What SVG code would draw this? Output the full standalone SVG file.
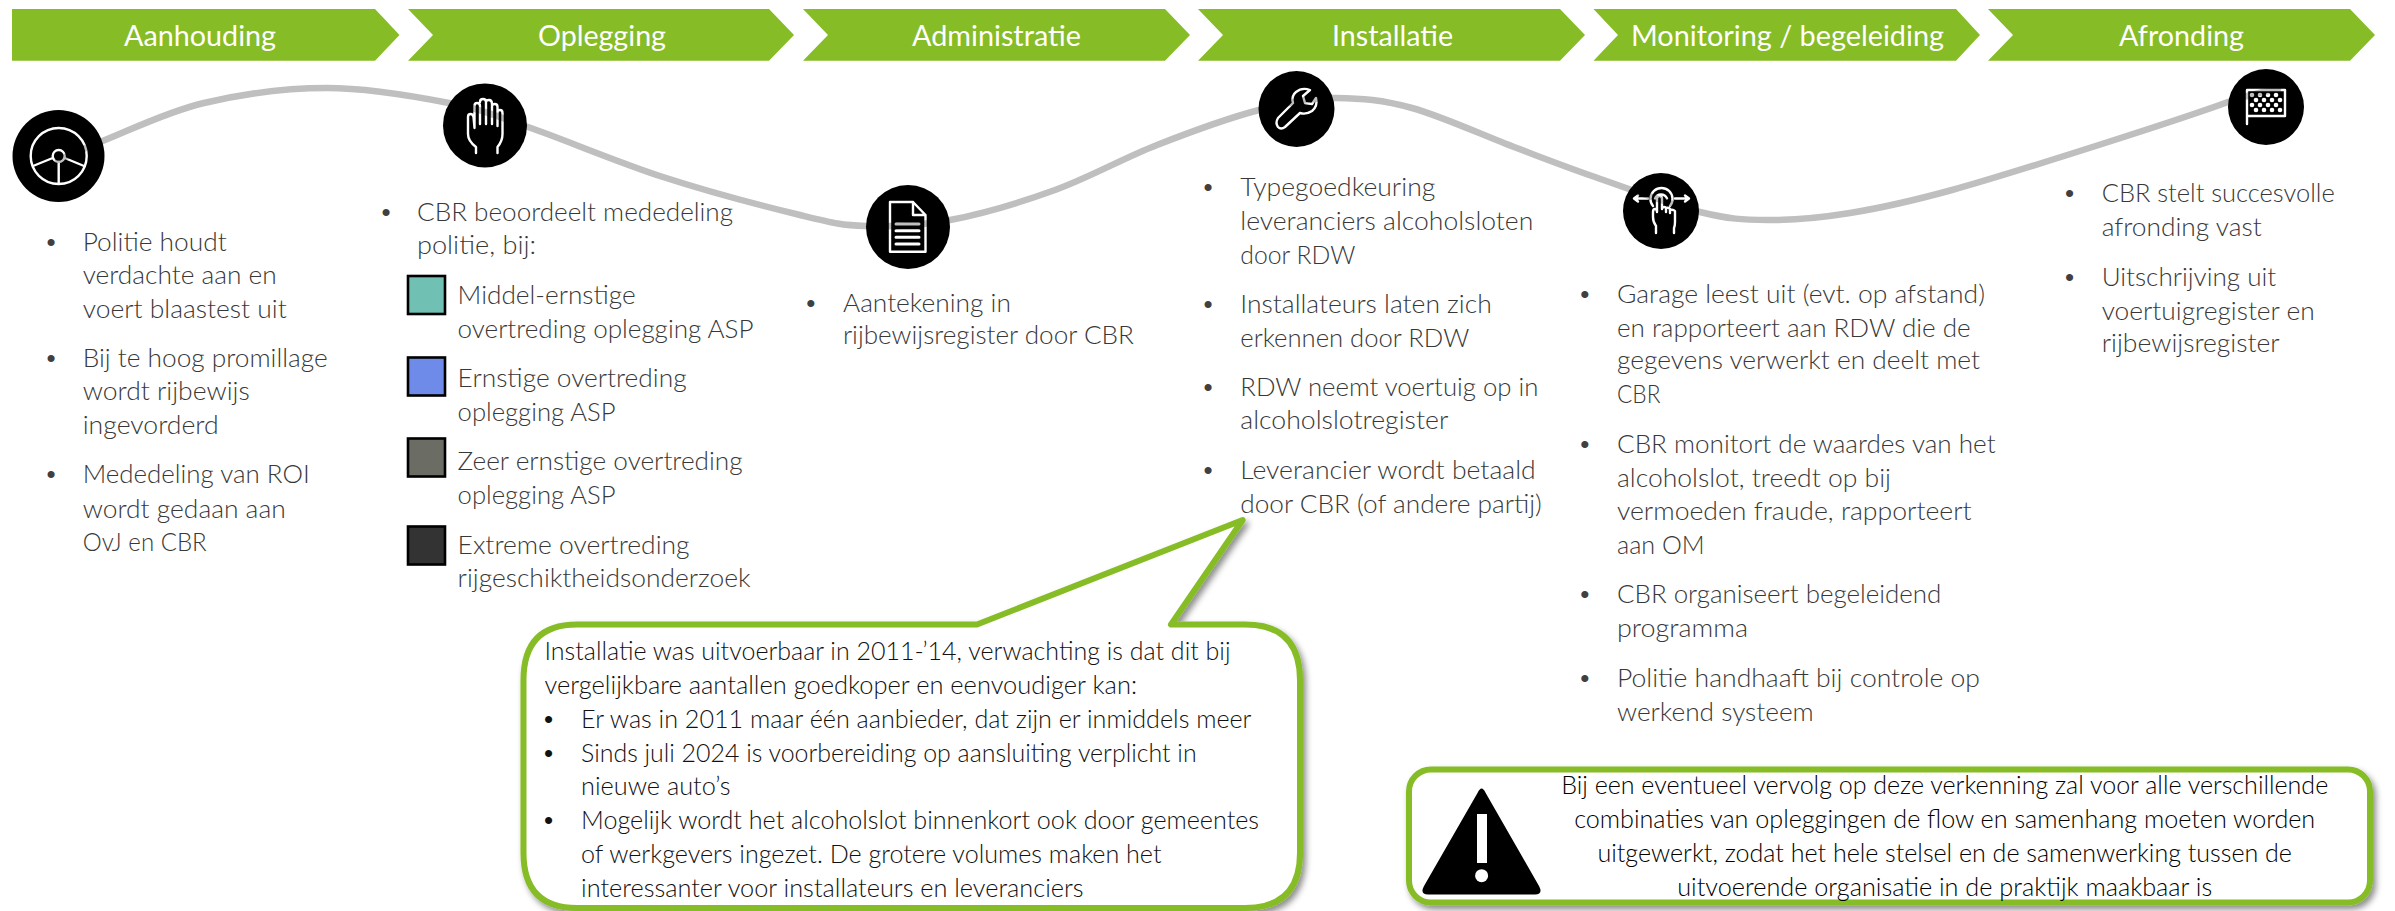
<svg xmlns="http://www.w3.org/2000/svg" width="2395" height="911" viewBox="0 0 2395 911">
<style>
text{font-family:"Lato","Carlito","Open Sans","Liberation Sans",sans-serif;font-weight:300}
.c{fill:#86BC25}
.h{fill:#fff;font-size:29.5px;font-weight:400;text-anchor:start}
.b{fill:#383838;font-size:25.5px}
.k{fill:#111;font-size:25.5px}
.n{fill:#000;font-size:25.5px;text-anchor:middle}
.d{font-family:"Liberation Sans",sans-serif;font-weight:400;font-size:26px;text-anchor:middle}
.dg{fill:#404040}
.dk{fill:#111}
.sq{stroke:#000;stroke-width:2.6}
.ic{fill:none;stroke:#000;stroke-width:2.4;stroke-linecap:round;stroke-linejoin:round}
.box{fill:#fff;stroke:#86BC25;stroke-width:6;stroke-linejoin:round;filter:url(#sh)}
</style>
<defs>
<filter id="sh" x="-5%" y="-10%" width="110%" height="125%"><feDropShadow dx="3" dy="4" stdDeviation="3" flood-color="#000" flood-opacity="0.45"/></filter>
<mask id="m1" maskUnits="userSpaceOnUse" x="0" y="0" width="2395" height="911"><rect width="2395" height="911" fill="#fff"/>
<g class="ic"><circle cx="58.7" cy="156" r="28"/><circle cx="58.7" cy="156" r="6"/><path d="M52.7 158L33 166M64.7 158L84 166M58.7 162V183"/></g></mask>
<mask id="m2" maskUnits="userSpaceOnUse" x="0" y="0" width="2395" height="911"><rect width="2395" height="911" fill="#fff"/>
<g class="ic"><path d="M476 153V147Q468 141 468 134V117Q468 114 470.500 114Q473 114 473.500 117L474.500 128V106Q474.500 103 477 103Q480 103 480 106V124M480 102Q480 99 483 99Q486 99 486 102V124M486 102Q486 100 489 100Q492 100 492 104V124M492 106Q492 104 494.800 104Q497.500 104 497.500 107V126M497.500 112Q497.500 110 500 110Q502.500 110 502.500 113V134Q502.500 141 497.500 147V153"/></g></mask>
<mask id="m3" maskUnits="userSpaceOnUse" x="0" y="0" width="2395" height="911"><rect width="2395" height="911" fill="#fff"/>
<g class="ic"><path d="M890 202H913L925.500 215V251.700H890ZM913 202V215H925.500"/><path d="M896 224H919M896 230.700H919M896 237.300H919M896 244H919" stroke-width="3"/></g></mask>
<mask id="m4" maskUnits="userSpaceOnUse" x="0" y="0" width="2395" height="911"><rect width="2395" height="911" fill="#fff"/>
<g class="ic"><path d="M1278 118L1293 103Q1291 96 1296 92Q1302 87 1310 90L1303 96L1305 103L1312 104L1316 98Q1318 106 1312 111Q1306 115 1300 113L1285 127Q1281 130 1278 127Q1275 123 1278 118Z"/></g></mask>
<mask id="m5" maskUnits="userSpaceOnUse" x="0" y="0" width="2395" height="911"><rect width="2395" height="911" fill="#fff"/>
<g class="ic"><path d="M1653 206A11 11 0 1 1 1670 206M1655 198.500A6.500 6.500 0 0 1 1667 198.500"/><path d="M1634 198.500H1648M1634 198.500L1638 195.500M1634 198.500L1638 201.500M1675 198.500H1689M1689 198.500L1685 195.500M1689 198.500L1685 201.500"/><path d="M1656 233V226Q1653 222 1653 217V212Q1653 209 1655 209Q1657 209 1657 212V199Q1657 196 1659.500 196Q1662 196 1662 199V209M1662 208Q1665 206 1666 208V212M1666 208Q1669 207 1670 209V213M1670 210Q1673 209 1675 211V222Q1675 226 1674 228V233"/></g></mask>
<mask id="m6" maskUnits="userSpaceOnUse" x="0" y="0" width="2395" height="911"><rect width="2395" height="911" fill="#fff"/>
<g class="ic"><path d="M2247 124V90H2285V116H2247"/></g>
<g fill="#000"><circle cx="2252" cy="95" r="2.300"/><circle cx="2260" cy="95" r="2.300"/><circle cx="2268" cy="95" r="2.300"/><circle cx="2276" cy="95" r="2.300"/><circle cx="2256" cy="100" r="2.300"/><circle cx="2264" cy="100" r="2.300"/><circle cx="2272" cy="100" r="2.300"/><circle cx="2280" cy="100" r="2.300"/><circle cx="2252" cy="105" r="2.300"/><circle cx="2260" cy="105" r="2.300"/><circle cx="2268" cy="105" r="2.300"/><circle cx="2276" cy="105" r="2.300"/><circle cx="2256" cy="110" r="2.300"/><circle cx="2264" cy="110" r="2.300"/><circle cx="2272" cy="110" r="2.300"/><circle cx="2280" cy="110" r="2.300"/></g></mask>
</defs>

<g id="connectors">
<path id="route" fill="none" stroke="#BFBFBF" stroke-width="6.5" stroke-linecap="round" d="M58 160C66 157 80.700 149.500 105 140C129.300 130.500 167 111.700 204 103C241 94.300 286.200 88 327 88C367.800 88 415.500 96.500 449 103C482.500 109.500 492.300 114.700 528 127C563.700 139.300 617.700 162.300 663 177C708.300 191.700 766.200 206.800 800 215C833.800 223.200 841 225.200 866 226C891 226.800 918.500 226 950 220C981.500 214 1020.500 202.500 1055 190C1089.500 177.500 1123 158.300 1157 145C1191 131.700 1229.200 117.800 1259 110C1288.800 102.200 1310.500 97.700 1336 98C1361.500 98.300 1382.300 99.800 1412 108C1441.700 116.200 1483.500 135.500 1514 147C1544.500 158.500 1564 166.200 1595 177C1626 187.800 1671.200 204.800 1700 212C1728.800 219.200 1743 219.800 1768 220C1793 220.200 1819.300 218 1850 213C1880.700 208 1909.500 201.700 1952 190C1994.500 178.300 2059 157.700 2105 143C2151 128.300 2197.200 113.300 2228 102C2245 96 2262 92 2278 89"/>
</g>

<g id="step-aanhouding">
<path class="c" d="M12 9H375L399.500 35L375 60.700H12Z"/>
<text class="h" x="124" y="45.700" textLength="152" lengthAdjust="spacingAndGlyphs">Aanhouding</text>
<circle cx="58.500" cy="156" r="46" fill="#000" mask="url(#m1)"/>
<g class="b">
<text x="82.700" y="251" textLength="144" lengthAdjust="spacingAndGlyphs">Politie houdt</text>
<text x="82.700" y="284.300" textLength="194" lengthAdjust="spacingAndGlyphs">verdachte aan en</text>
<text x="82.700" y="317.700" textLength="204" lengthAdjust="spacingAndGlyphs">voert blaastest uit</text>
<text x="82.700" y="366.700" textLength="245" lengthAdjust="spacingAndGlyphs">Bij te hoog promillage</text>
<text x="82.700" y="400.300" textLength="167" lengthAdjust="spacingAndGlyphs">wordt rijbewijs</text>
<text x="82.700" y="434.300" textLength="136" lengthAdjust="spacingAndGlyphs">ingevorderd</text>
<text x="82.700" y="483.300" textLength="227" lengthAdjust="spacingAndGlyphs">Mededeling van ROI</text>
<text x="82.700" y="517.700" textLength="203" lengthAdjust="spacingAndGlyphs">wordt gedaan aan</text>
<text x="82.700" y="550.700" textLength="124" lengthAdjust="spacingAndGlyphs">OvJ en CBR</text>
</g>
<g class="dg"><text class="d" x="51" y="251">•</text><text class="d" x="51" y="367">•</text><text class="d" x="51" y="483">•</text></g>
</g>

<g id="step-oplegging">
<path class="c" d="M408 9H769L794 35L769 60.700H408L433 35Z"/>
<text class="h" x="538" y="45.700" textLength="128" lengthAdjust="spacingAndGlyphs">Oplegging</text>
<circle cx="485" cy="125.400" r="42" fill="#000" mask="url(#m2)"/>
<g class="b">
<text x="417" y="221" textLength="316" lengthAdjust="spacingAndGlyphs">CBR beoordeelt mededeling</text>
<text x="417" y="254" textLength="119" lengthAdjust="spacingAndGlyphs">politie, bij:</text>
<text x="457.600" y="304" textLength="178" lengthAdjust="spacingAndGlyphs">Middel-ernstige</text>
<text x="457.600" y="337.700" textLength="296" lengthAdjust="spacingAndGlyphs">overtreding oplegging ASP</text>
<text x="457.600" y="387" textLength="229" lengthAdjust="spacingAndGlyphs">Ernstige overtreding</text>
<text x="457.600" y="420.700" textLength="158" lengthAdjust="spacingAndGlyphs">oplegging ASP</text>
<text x="457.600" y="470" textLength="285" lengthAdjust="spacingAndGlyphs">Zeer ernstige overtreding</text>
<text x="457.600" y="503.700" textLength="158" lengthAdjust="spacingAndGlyphs">oplegging ASP</text>
<text x="457.600" y="554" textLength="232" lengthAdjust="spacingAndGlyphs">Extreme overtreding</text>
<text x="457.600" y="586.700" textLength="293" lengthAdjust="spacingAndGlyphs">rijgeschiktheidsonderzoek</text>
</g>
<text class="d dg" x="386" y="221">•</text>
<rect class="sq" x="408" y="276" width="37" height="38" fill="#70C1B3"/>
<rect class="sq" x="408" y="357.500" width="37" height="38" fill="#6F8BEA"/>
<rect class="sq" x="408" y="438.500" width="37" height="38" fill="#6B6C63"/>
<rect class="sq" x="408" y="526.500" width="37" height="38" fill="#333333"/>
</g>

<g id="step-administratie">
<path class="c" d="M803 9H1165L1190 35L1165 60.700H803L828 35Z"/>
<text class="h" x="912" y="45.700" textLength="169" lengthAdjust="spacingAndGlyphs">Administratie</text>
<circle cx="908" cy="227" r="42" fill="#000" mask="url(#m3)"/>
<g class="b">
<text x="842.900" y="311.700" textLength="168" lengthAdjust="spacingAndGlyphs">Aantekening in</text>
<text x="842.900" y="344.300" textLength="291" lengthAdjust="spacingAndGlyphs">rijbewijsregister door CBR</text>
</g>
<text class="d dg" x="810.700" y="311.700">•</text>
</g>

<g id="step-installatie">
<path class="c" d="M1198 9H1560L1585 35L1560 60.700H1198L1223 35Z"/>
<text class="h" x="1332" y="45.700" textLength="121" lengthAdjust="spacingAndGlyphs">Installatie</text>
<circle cx="1296.500" cy="109" r="38" fill="#000" mask="url(#m4)"/>
<g class="b">
<text x="1240.300" y="195.700" textLength="195" lengthAdjust="spacingAndGlyphs">Typegoedkeuring</text>
<text x="1240.300" y="229.700" textLength="293" lengthAdjust="spacingAndGlyphs">leveranciers alcoholsloten</text>
<text x="1240.300" y="263.700" textLength="115" lengthAdjust="spacingAndGlyphs">door RDW</text>
<text x="1240.300" y="312.700" textLength="251.500" lengthAdjust="spacingAndGlyphs">Installateurs laten zich</text>
<text x="1240.300" y="346.700" textLength="229" lengthAdjust="spacingAndGlyphs">erkennen door RDW</text>
<text x="1240.300" y="396" textLength="298" lengthAdjust="spacingAndGlyphs">RDW neemt voertuig op in</text>
<text x="1240.300" y="429.300" textLength="208" lengthAdjust="spacingAndGlyphs">alcoholslotregister</text>
<text x="1240.300" y="479.300" textLength="295.400" lengthAdjust="spacingAndGlyphs">Leverancier wordt betaald</text>
<text x="1240.300" y="512.700" textLength="301.500" lengthAdjust="spacingAndGlyphs">door CBR (of andere partij)</text>
</g>
<g class="dg"><text class="d" x="1208" y="195.700">•</text><text class="d" x="1208" y="312.700">•</text><text class="d" x="1208" y="396">•</text><text class="d" x="1208" y="479.300">•</text></g>
</g>

<g id="step-monitoring">
<path class="c" d="M1593.500 9H1956L1980 35L1956 60.700H1593.500L1618 35Z"/>
<text class="h" x="1631" y="45.700" textLength="313" lengthAdjust="spacingAndGlyphs">Monitoring / begeleiding</text>
<circle cx="1661" cy="211" r="38" fill="#000" mask="url(#m5)"/>
<g class="b">
<text x="1617" y="302.700" textLength="368" lengthAdjust="spacingAndGlyphs">Garage leest uit (evt. op afstand)</text>
<text x="1617" y="336.700" textLength="353.600" lengthAdjust="spacingAndGlyphs">en rapporteert aan RDW die de</text>
<text x="1617" y="369.300" textLength="363" lengthAdjust="spacingAndGlyphs">gegevens verwerkt en deelt met</text>
<text x="1617" y="403.300" textLength="43.400" lengthAdjust="spacingAndGlyphs">CBR</text>
<text x="1617" y="452.700" textLength="378.600" lengthAdjust="spacingAndGlyphs">CBR monitort de waardes van het</text>
<text x="1617" y="486.700" textLength="274" lengthAdjust="spacingAndGlyphs">alcoholslot, treedt op bij</text>
<text x="1617" y="520.300" textLength="354.700" lengthAdjust="spacingAndGlyphs">vermoeden fraude, rapporteert</text>
<text x="1617" y="553.700" textLength="87.700" lengthAdjust="spacingAndGlyphs">aan OM</text>
<text x="1617" y="603.300" textLength="324.300" lengthAdjust="spacingAndGlyphs">CBR organiseert begeleidend</text>
<text x="1617" y="637" textLength="131" lengthAdjust="spacingAndGlyphs">programma</text>
<text x="1617" y="686.700" textLength="363" lengthAdjust="spacingAndGlyphs">Politie handhaaft bij controle op</text>
<text x="1617" y="720.700" textLength="196.700" lengthAdjust="spacingAndGlyphs">werkend systeem</text>
</g>
<g class="dg"><text class="d" x="1584.700" y="302.700">•</text><text class="d" x="1584.700" y="452.700">•</text><text class="d" x="1584.700" y="603.300">•</text><text class="d" x="1584.700" y="686.700">•</text></g>
</g>

<g id="step-afronding">
<path class="c" d="M1988 9H2350L2375 35L2350 60.700H1988L2013 35Z"/>
<text class="h" x="2119" y="45.700" textLength="125" lengthAdjust="spacingAndGlyphs">Afronding</text>
<circle cx="2266" cy="107" r="38" fill="#000" mask="url(#m6)"/>
<g class="b">
<text x="2101.700" y="202.300" textLength="233" lengthAdjust="spacingAndGlyphs">CBR stelt succesvolle</text>
<text x="2101.700" y="236.300" textLength="160" lengthAdjust="spacingAndGlyphs">afronding vast</text>
<text x="2101.700" y="285.700" textLength="174.500" lengthAdjust="spacingAndGlyphs">Uitschrijving uit</text>
<text x="2101.700" y="319.700" textLength="213" lengthAdjust="spacingAndGlyphs">voertuigregister en</text>
<text x="2101.700" y="352.300" textLength="178" lengthAdjust="spacingAndGlyphs">rijbewijsregister</text>
</g>
<g class="dg"><text class="d" x="2069.600" y="202.300">•</text><text class="d" x="2069.600" y="285.700">•</text></g>
</g>

<g id="callout-installatie">
<path class="box" d="M577 624.500H977L1242.700 520L1171 624.500H1245Q1300 624.500 1300 680V853Q1300 908 1245 908H577Q523.500 908 523.500 853V680Q523.500 624.500 577 624.500Z"/>
<g class="k">
<text x="544.500" y="660" textLength="686" lengthAdjust="spacingAndGlyphs">Installatie was uitvoerbaar in 2011-’14, verwachting is dat dit bij</text>
<text x="544.500" y="694" textLength="592.500" lengthAdjust="spacingAndGlyphs">vergelijkbare aantallen goedkoper en eenvoudiger kan:</text>
<text x="581" y="728" textLength="670.500" lengthAdjust="spacingAndGlyphs">Er was in 2011 maar één aanbieder, dat zijn er inmiddels meer</text>
<text x="581" y="762" textLength="615.600" lengthAdjust="spacingAndGlyphs">Sinds juli 2024 is voorbereiding op aansluiting verplicht in</text>
<text x="581" y="795.300" textLength="149.600" lengthAdjust="spacingAndGlyphs">nieuwe auto’s</text>
<text x="581" y="829.300" textLength="678" lengthAdjust="spacingAndGlyphs">Mogelijk wordt het alcoholslot binnenkort ook door gemeentes</text>
<text x="581" y="863.300" textLength="580.500" lengthAdjust="spacingAndGlyphs">of werkgevers ingezet. De grotere volumes maken het</text>
<text x="581" y="897.300" textLength="502.600" lengthAdjust="spacingAndGlyphs">interessanter voor installateurs en leveranciers</text>
</g>
<g class="dk"><text class="d" x="548.600" y="728">•</text><text class="d" x="548.600" y="762">•</text><text class="d" x="548.600" y="829.300">•</text></g>
</g>

<g id="note-vervolg">
<rect class="box" x="1409" y="769.500" width="961" height="133" rx="22" ry="22"/>
<path d="M1477.500 793Q1481.600 784 1485.700 793L1539 886Q1543.500 894.500 1535 894.500H1428Q1419.500 894.500 1424 886Z" fill="#000"/>
<rect x="1477" y="814" width="10" height="49" fill="#fff"/>
<circle cx="1481.600" cy="875.700" r="6.500" fill="#fff"/>
<g class="n">
<text x="1944.700" y="794" textLength="767" lengthAdjust="spacingAndGlyphs">Bij een eventueel vervolg op deze verkenning zal voor alle verschillende</text>
<text x="1944.700" y="828.300" textLength="741" lengthAdjust="spacingAndGlyphs">combinaties van opleggingen de flow en samenhang moeten worden</text>
<text x="1944.700" y="862.300" textLength="694.500" lengthAdjust="spacingAndGlyphs">uitgewerkt, zodat het hele stelsel en de samenwerking tussen de</text>
<text x="1944.700" y="896" textLength="535" lengthAdjust="spacingAndGlyphs">uitvoerende organisatie in de praktijk maakbaar is</text>
</g>
</g>
</svg>
